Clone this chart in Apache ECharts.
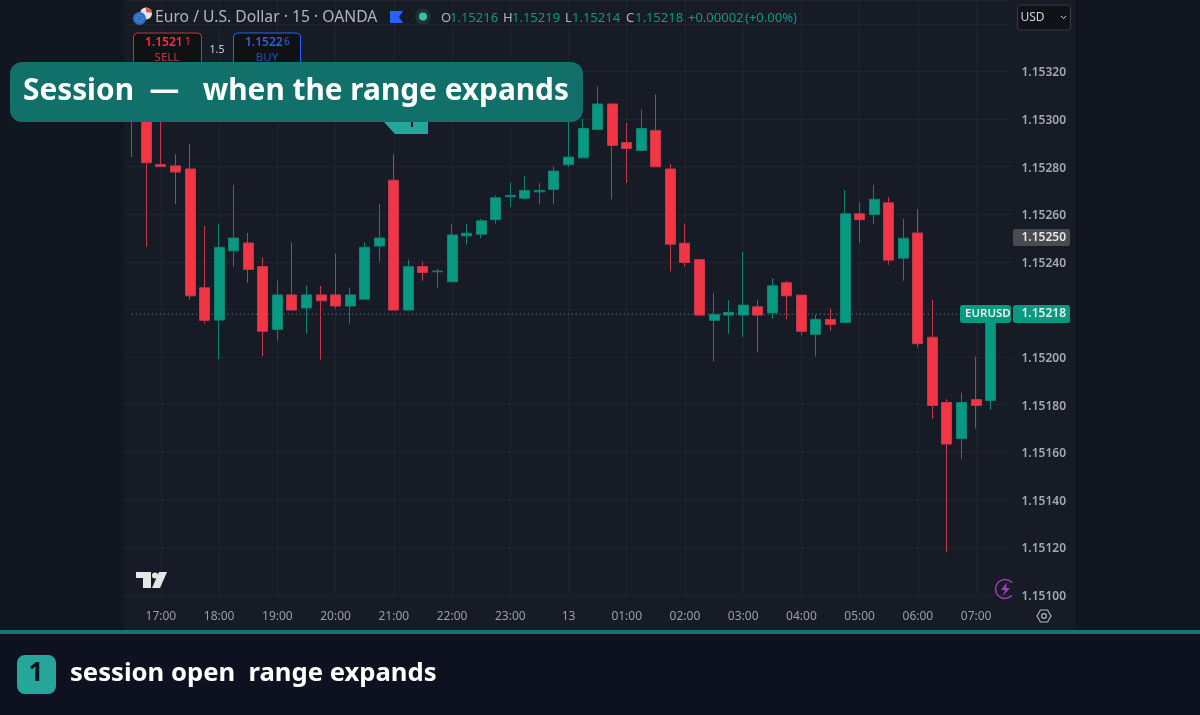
<!DOCTYPE html>
<html>
<head>
<meta charset="utf-8">
<style>html,body{margin:0;padding:0;background:#121620}#main{width:1200px;height:715px}</style>
<script src="https://cdn.jsdelivr.net/npm/echarts@6/dist/echarts.min.js"></script>
</head>
<body>
<div id="main"></div>
<script>
let times = ['16:30','16:45','17:00','17:15','17:30','17:45','18:00','18:15','18:30','18:45','19:00','19:15','19:30','19:45','20:00','20:15','20:30','20:45','21:00','21:15','21:30','21:45','22:00','22:15','22:30','22:45','23:00','23:15','23:30','23:45','13','00:15','00:30','00:45','01:00','01:15','01:30','01:45','02:00','02:15','02:30','02:45','03:00','03:15','03:30','03:45','04:00','04:15','04:30','04:45','05:00','05:15','05:30','05:45','06:00','06:15','06:30','06:45','07:00','07:15','']
let opens = [1.153116,1.153075,1.152809,1.152803,1.152790,1.152291,1.152155,1.152446,1.152479,1.152380,1.152116,1.152261,1.152206,1.152261,1.152261,1.152214,1.152243,1.152466,1.152743,1.152197,1.152380,1.152358,1.152316,1.152509,1.152516,1.152577,1.152673,1.152667,1.152694,1.152704,1.152808,1.152837,1.152956,1.153063,1.152901,1.152868,1.152952,1.152790,1.152478,1.152409,1.152154,1.152176,1.152176,1.152211,1.152185,1.152312,1.152260,1.152095,1.152158,1.152145,1.152602,1.152598,1.152648,1.152415,1.152521,1.152083,1.151809,1.151657,1.151821,1.151817]
let closes = [1.153033,1.152816,1.152800,1.152777,1.152257,1.152154,1.152461,1.152500,1.152368,1.152108,1.152261,1.152197,1.152261,1.152236,1.152214,1.152261,1.152461,1.152500,1.152197,1.152380,1.152355,1.152361,1.152513,1.152520,1.152572,1.152669,1.152679,1.152700,1.152700,1.152781,1.152840,1.152960,1.153063,1.152889,1.152876,1.152960,1.152799,1.152474,1.152397,1.152176,1.152179,1.152187,1.152218,1.152176,1.152299,1.152257,1.152108,1.152158,1.152137,1.152602,1.152577,1.152663,1.152407,1.152499,1.152056,1.151796,1.151634,1.151809,1.151796,1.152180]
let lows = [1.152840,1.152463,1.152798,1.152643,1.152241,1.152141,1.151989,1.152379,1.152312,1.152002,1.152069,1.152197,1.152099,1.151989,1.152203,1.152141,1.152243,1.152400,1.152197,1.152197,1.152320,1.152292,1.152316,1.152471,1.152499,1.152560,1.152630,1.152661,1.152642,1.152642,1.152798,1.152836,1.152956,1.152663,1.152730,1.152868,1.152799,1.152359,1.152380,1.152176,1.151981,1.152097,1.152083,1.152018,1.152160,1.152158,1.152091,1.152002,1.152111,1.152145,1.152479,1.152560,1.152387,1.152320,1.152041,1.151741,1.151179,1.151571,1.151699,1.151778]
let highs = [1.153200,1.153096,1.153033,1.152852,1.152894,1.152551,1.152560,1.152723,1.152521,1.152418,1.152320,1.152481,1.152299,1.152299,1.152433,1.152292,1.152481,1.152643,1.152851,1.152409,1.152401,1.152370,1.152558,1.152559,1.152581,1.152679,1.152732,1.152760,1.152731,1.152802,1.153012,1.153002,1.153137,1.153063,1.152984,1.153040,1.153103,1.152812,1.152560,1.152409,1.152270,1.152239,1.152442,1.152239,1.152331,1.152320,1.152260,1.152178,1.152203,1.152702,1.152650,1.152723,1.152672,1.152581,1.152621,1.152239,1.151823,1.151850,1.152002,1.152190]
let lastPrice = 1.15218
let ohlcText = [['O', '1.15216', 441], ['H', '1.15219', 503], ['L', '1.15214', 565], ['C', '1.15218', 626]]

const GREEN = '#089981', RED = '#f23645', FONT = '"Noto Sans", sans-serif'

let candleData = opens.map((o, i) => [o, closes[i], lows[i], highs[i]])
let lastPriceLine = times.map(() => lastPrice)

function rect(x, y, w, h, fill, z, extra) {
    return {
        type: 'rect', z: z, silent: true,
        shape: {x: x, y: y, width: w, height: h, r: (extra && extra.r) || 0},
        style: {fill: fill, stroke: extra && extra.stroke, lineWidth: extra && extra.stroke ? 1 : 0}
    }
}
function text(t, x, y, size, color, opts) {
    opts = opts || {}
    return {
        type: 'text', z: opts.z || 30, silent: true, x: x, y: y + 1,
        style: {
            text: t, fill: color, font: (opts.weight || 'normal') + ' ' + size + 'px ' + FONT,
            textAlign: opts.align || 'left', textVerticalAlign: 'middle'
        }
    }
}
function poly(points, fill, z) {
    return {type: 'polygon', z: z, silent: true, shape: {points: points}, style: {fill: fill}}
}
function circle(cx, cy, r, style, z) {
    return {type: 'circle', z: z, silent: true, shape: {cx: cx, cy: cy, r: r}, style: style}
}

let overlay = [
    // panels
    rect(124, 0, 951, 630, '#171b26', -10),
    rect(0, 630, 1200, 85, '#0e1220', 20),
    rect(0, 630, 1200, 4, '#17746c', 21),
    // legend
    circle(146, 13.5, 6, {fill: '#e9e4e4'}, 30),
    poly([[146, 7.5], [151, 9.5], [152, 13], [146, 12]], '#d9534f', 31),
    circle(139.5, 18.5, 6.5, {fill: '#2f6fc4'}, 32),
    circle(139.5, 18.5, 3, {fill: 'none', stroke: '#9cc0ea', lineWidth: 1, lineDash: [1, 2]}, 33),
    text('Euro / U.S. Dollar · 15 · OANDA', 155, 17, 15.7, '#b2b5be'),
    poly([[390, 11], [403, 11], [399, 17], [403, 23], [390, 23]], '#2962ff', 30),
    circle(423, 16.5, 8, {fill: '#1c3236'}, 30),
    circle(423, 16.5, 4, {fill: '#3fbf9f'}, 31),
    text('+0.00002', 688, 17, 13, GREEN),
    text('(+0.00%)', 745, 17, 13, GREEN),
    // sell / buy
    rect(133.5, 33, 68, 40, '#101114', 30, {r: 4, stroke: '#b93a44'}),
    rect(233.5, 33, 67, 40, '#101114', 30, {r: 4, stroke: '#2962ff'}),
    text('1.1521', 145, 42, 12, RED, {weight: 600, z: 31}),
    text('1', 185, 41, 10, RED, {z: 31}),
    text('SELL', 167, 56.5, 11.5, '#b93a44', {align: 'center', z: 31}),
    text('1.5', 217, 49, 10.5, '#d1d4dc', {align: 'center', z: 31}),
    text('1.1522', 245, 42, 12, '#2e62d9', {weight: 600, z: 31}),
    text('6', 284, 41, 10, '#2e62d9', {z: 31}),
    text('BUY', 267, 56.5, 11.5, '#2350b8', {align: 'center', z: 31}),
    // usd switch
    rect(1017.5, 5, 53, 25, '#101218', 30, {r: 3, stroke: '#3a3d45'}),
    text('USD', 1020.5, 16.5, 12, '#d1d4dc', {z: 31}),
    {type: 'polyline', z: 31, silent: true, shape: {points: [[1061, 16], [1063.5, 18.5], [1066, 16]]}, style: {stroke: '#d1d4dc', lineWidth: 1, fill: null}},
    // price tags
    rect(1013, 229, 57, 17, '#4a4b50', 30, {r: 2}),
    text('1.15250', 1021.5, 237, 12, '#e6e6e6', {weight: 600, z: 31}),
    rect(960, 305, 51, 18, GREEN, 30, {r: 3}),
    rect(1013, 305, 57, 18, GREEN, 30, {r: 3}),
    text('EURUSD', 965, 313, 11.5, '#e4f3f0', {weight: 600, z: 31}),
    text('1.15218', 1021.5, 313, 12, '#e4f3f0', {weight: 600, z: 31}),
    // tradingview logo
    poly([[136, 572], [151, 572], [151, 588], [143, 588], [143, 578], [136, 578]], '#e6e6e6', 15),
    circle(155, 575.5, 3, {fill: '#e6e6e6'}, 15),
    poly([[159, 572], [167, 572], [160, 588], [152, 588]], '#e6e6e6', 15),
    // bolt badge
    {type: 'arc', z: 15, silent: true, shape: {cx: 1005, cy: 589, r: 9.5, startAngle: 0.75, endAngle: 5.55, clockwise: true}, style: {stroke: '#9c3fbf', lineWidth: 1.5, fill: null}},
    poly([[1007, 582], [1001, 590], [1005, 590], [1003, 596], [1010, 588], [1006, 588]], '#9c3fbf', 15),
    // settings
    {type: 'polygon', z: 15, silent: true, shape: {points: [[1037, 616], [1040.5, 610], [1047.5, 610], [1051, 616], [1047.5, 622], [1040.5, 622]]}, style: {stroke: '#b2b5be', lineWidth: 1.2, fill: null}},
    circle(1044, 616, 2.3, {stroke: '#b2b5be', lineWidth: 1.2, fill: null}, 15),
    // marker under the banner
    poly([[384, 122], [395, 134], [428, 134], [428, 122]], '#26a69a', 15),
    rect(411, 122, 2, 5, '#131722', 16),
    // banner
    rect(10, 62, 573, 60, '#12706a', 40, {r: 12}),
    text('Session  — \u2009\u200a when the range expands', 23, 91, 29.8, '#ffffff', {weight: 'bold', z: 41}),
    // footer
    rect(17, 655, 39, 39, '#26a69a', 41, {r: 8}),
    text('1', 36, 673, 26, '#0e1220', {weight: 'bold', align: 'center', z: 42}),
    text('session open  range expands', 70, 673, 25.65, '#ffffff', {weight: 'bold', z: 42})
]
ohlcText.forEach(p => {
    overlay.push(text(p[0], p[2], 17, 13, '#b2b5be'))
    overlay.push(text(p[1], p[2] + (p[0] === 'L' ? 7 : 9), 17, 13, GREEN))
})

let chart = echarts.init(document.getElementById('main'), null, {renderer: 'canvas'})
let option = {
    animation: false,
    backgroundColor: '#121620',
    grid: {left: 124.5, top: -1.5, width: 888, height: 596.5, containLabel: false},
    xAxis: {
        type: 'category',
        data: times,
        axisLine: {show: false},
        axisTick: {show: false},
        axisLabel: {
            color: '#9a9ea8', fontFamily: FONT, fontSize: 12, margin: 16,
            interval: (i, name) => name === '13' || name.endsWith(':00')
        },
        splitLine: {
            show: true, alignWithLabel: true,
            interval: (i, name) => name === '13' || name.endsWith(':00'),
            lineStyle: {color: 'rgba(255,255,255,0.04)', width: 1}
        }
    },
    yAxis: {
        type: 'value',
        scale: true,
        min: 1.151,
        max: 1.1535,
        interval: 0.0002,
        position: 'right',
        axisLine: {show: false},
        axisTick: {show: false},
        axisLabel: {
            margin: 9,
            showMaxLabel: false,
            formatter: v => '{p|' + v.toFixed(5) + '}',
            rich: {p: {color: '#a4a8b2', fontFamily: FONT, fontSize: 12, fontWeight: 600, padding: [3, 0, 0, 0]}}
        },
        splitLine: {lineStyle: {color: 'rgba(255,255,255,0.04)', width: 1}}
    },
    series: [
        {
            type: 'line',
            data: lastPriceLine,
            z: 1,
            symbol: 'none',
            silent: true,
            lineStyle: {color: '#5aa79b', type: [1, 3], width: 1}
        },
        {
            type: 'candlestick',
            data: candleData,
            z: 2,
            barWidth: 10.5,
            itemStyle: {color: GREEN, color0: RED, borderColor: '#0d8272', borderColor0: '#c2384a', borderWidth: 1}
        }
    ],
    graphic: {elements: overlay}
}
chart.setOption(option)
</script>
</body>
</html>
